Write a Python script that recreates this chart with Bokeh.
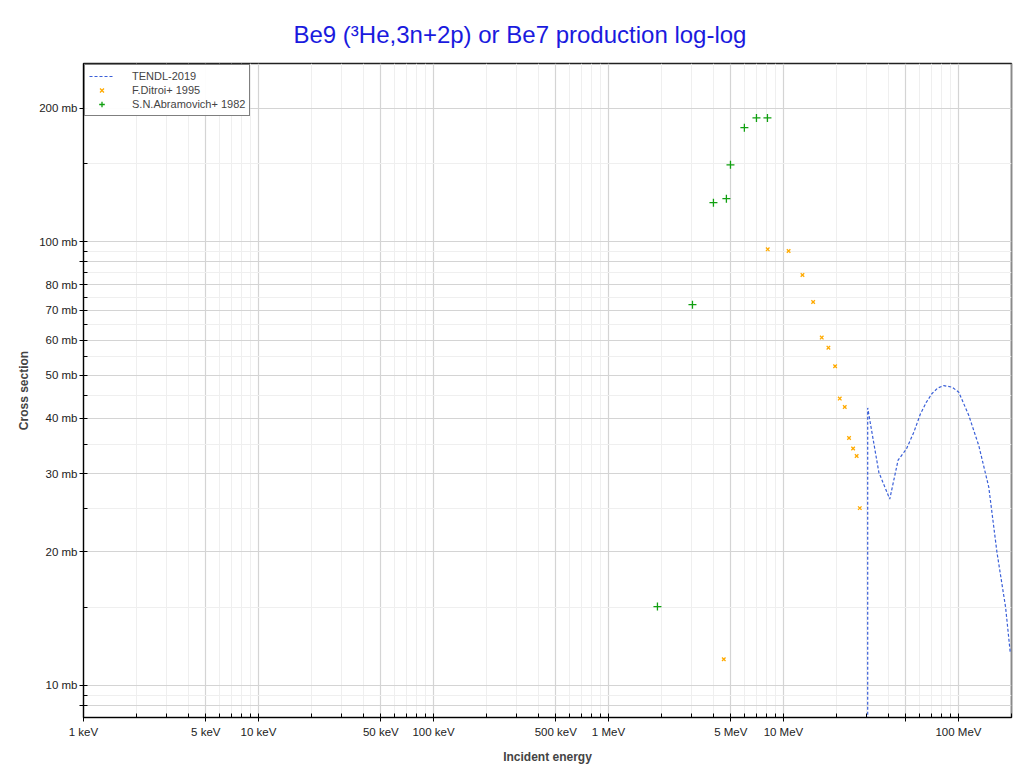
from bokeh.plotting import figure
from bokeh.models import FixedTicker, Legend, LegendItem
from bokeh.embed import file_html
from bokeh.resources import INLINE

# ---- data (energies in MeV, cross sections in mb) ----
tendl_energy = [30.3, 30.3, 35.1, 40.5, 45.2, 50.4, 55.6, 60.6, 65.6, 70.7, 76.2, 82.4,
                92.0, 100.4, 114.6, 130.7, 149.0, 166.0, 186.0, 198.0]
tendl_xs = [1e-4, 42.2, 30.2, 26.3, 32.2, 34.1, 37.2, 40.9, 43.5, 45.5, 46.8, 47.4,
            47.0, 45.8, 40.6, 34.7, 28.0, 19.96, 15.0, 11.8]

ditroi_energy = [4.56, 8.13, 10.7, 12.84, 14.78, 16.55, 18.07, 19.73, 20.98, 22.4,
                 23.7, 25.0, 26.2, 27.3]
ditroi_xs = [11.46, 96.1, 95.3, 84.1, 73.1, 60.8, 57.7, 52.4, 44.3, 42.4,
             36.1, 34.2, 32.9, 25.1]

abram_energy = [1.905, 3.02, 3.98, 4.72, 4.98, 5.98, 7.01, 8.1]
abram_xs = [15.06, 72.1, 122.4, 125.0, 149.0, 180.6, 190.0, 190.0]

x_major = [1e-3, 5e-3, 1e-2, 5e-2, 0.1, 0.5, 1, 5, 10, 50, 100]
x_labels = {1e-3: "1 keV", 5e-3: "5 keV", 1e-2: "10 keV", 5e-2: "50 keV", 0.1: "100 keV",
            0.5: "500 keV", 1: "1 MeV", 5: "5 MeV", 10: "10 MeV", 50: "", 100: "100 MeV"}
y_major = [9, 10, 20, 30, 40, 50, 60, 70, 80, 90, 100, 200]
y_labels = {9: "", 10: "10 mb", 20: "20 mb", 30: "30 mb", 40: "40 mb", 50: "50 mb",
            60: "60 mb", 70: "70 mb", 80: "80 mb", 90: "", 100: "100 mb", 200: "200 mb"}
y_minor = [9.5, 15, 25, 35, 45, 55, 65, 75, 85, 95, 150]

x_minor = []
for dec in [1e-3, 1e-2, 1e-1, 1, 10, 100]:
    for m in [2, 3, 4, 6, 7, 8, 9]:
        v = dec * m
        if v <= 200:
            x_minor.append(v)

FONT = "Liberation Sans"

p = figure(width=1016, height=768, x_axis_type="log", y_axis_type="log",
           x_range=(1e-3, 201), y_range=(8.47, 252),
           output_backend="svg", toolbar_location=None,
           min_border_left=83, min_border_right=5, min_border_top=63, min_border_bottom=51)

p.title.text = "Be9 (\u00b3He,3n+2p) or Be7 production log-log"
p.title.align = "left"
p.title.offset = 210
p.title.standoff = 32
p.title.text_color = "#1a1ade"
p.title.text_font = FONT
p.title.text_font_size = "24px"
p.title.text_font_style = "normal"

p.outline_line_color = "#222222"
p.outline_line_width = 1.5

xt = FixedTicker(ticks=x_major, minor_ticks=x_minor)
yt = FixedTicker(ticks=y_major, minor_ticks=y_minor)

p.xaxis.ticker = xt
p.yaxis.ticker = yt
p.xaxis.major_label_overrides = x_labels
p.yaxis.major_label_overrides = y_labels
p.xaxis.axis_label = "Incident energy"
p.yaxis.axis_label = "Cross section"
for ax in [p.xaxis, p.yaxis]:
    ax.axis_label_text_font = FONT
    ax.axis_label_text_font_style = "bold"
    ax.axis_label_text_font_size = "12px"
    ax.major_label_text_font = FONT
    ax.major_label_text_font_size = "11.5px"
    ax.major_label_text_color = "#222222"
    ax.axis_line_color = "black"
    ax.major_tick_line_color = "black"
    ax.minor_tick_line_color = "black"
    ax.major_tick_in = 4
    ax.major_tick_out = 4
    ax.minor_tick_in = 4
    ax.minor_tick_out = 0
p.xaxis.major_label_standoff = 4
p.yaxis.major_label_standoff = 2
p.xaxis.axis_label_standoff = 9
p.yaxis.axis_label_standoff = 5

p.xgrid.ticker = xt
p.ygrid.ticker = yt
p.xgrid.grid_line_color = "#d4d4d4"
p.ygrid.grid_line_color = "#d4d4d4"
p.xgrid.grid_line_width = 1.2
p.ygrid.grid_line_width = 1.2
p.xgrid.minor_grid_line_color = "#efefef"
p.ygrid.minor_grid_line_color = "#efefef"

r1 = p.line(tendl_energy, tendl_xs, line_color="#3a5fd8", line_width=1.2, line_dash="3 2")
r2 = p.scatter(ditroi_energy, ditroi_xs, marker="x", size=5, line_color="#ffaa00", line_width=1.3)
r3 = p.scatter(abram_energy, abram_xs, marker="cross", size=8, line_color="#11a011", line_width=1.3)

legend = Legend(items=[LegendItem(label="TENDL-2019", renderers=[r1]),
                       LegendItem(label="F.Ditroi+ 1995", renderers=[r2]),
                       LegendItem(label="S.N.Abramovich+ 1982", renderers=[r3])],
                location="top_left")
legend.label_text_font = FONT
legend.label_text_font_size = "11px"
legend.border_line_color = "black"
legend.border_line_width = 1
legend.glyph_width = 25
legend.glyph_height = 14
legend.label_height = 14
legend.spacing = -1
legend.padding = 4
legend.margin = 1
legend.label_standoff = 18
p.add_layout(legend)

open("out.html", "w").write(file_html(p, INLINE))
